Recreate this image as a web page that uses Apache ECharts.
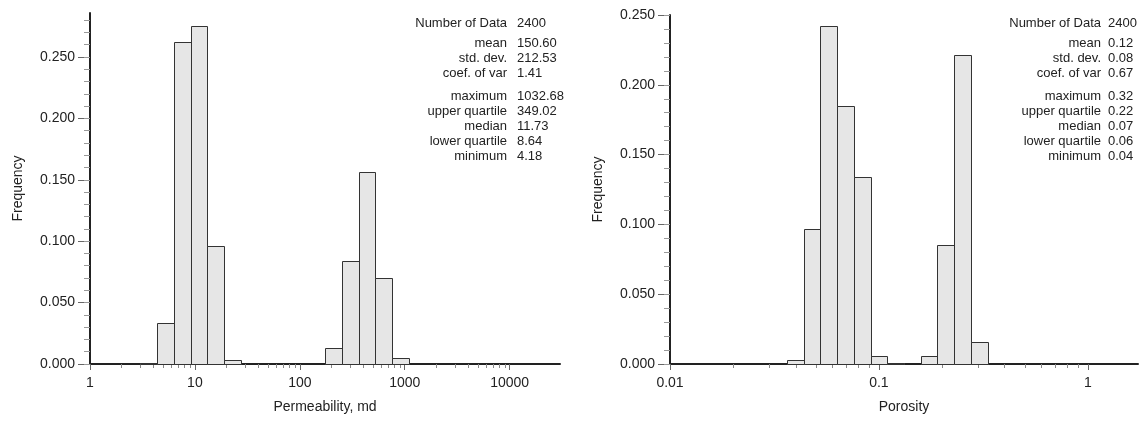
<!DOCTYPE html>
<html><head><meta charset="utf-8">
<script src="https://cdn.jsdelivr.net/npm/echarts@6/dist/echarts.min.js"></script>
<style>html,body{margin:0;padding:0;background:#fff}#c{width:1139px;height:423px}</style>
</head><body><div id="c"></div>
<script>
// ---- Data ----
// Permeability histogram (log bins, md)
const permBinLow  = [3.020, 4.365, 6.310, 9.120, 13.18, 19.05, 173.8, 251.2, 363.1, 524.8, 758.6];
const permBinHigh = [4.365, 6.310, 9.120, 13.18, 19.05, 27.54, 251.2, 363.1, 524.8, 758.6, 1096];
const permFreq    = [0.001, 0.033, 0.262, 0.275, 0.096, 0.003, 0.013, 0.084, 0.156, 0.070, 0.005];
// Porosity histogram (log bins)
const poroBinLow  = [0.03631, 0.04365, 0.05248, 0.06310, 0.07586, 0.09120, 0.1096, 0.1585, 0.1905, 0.2291, 0.2754];
const poroBinHigh = [0.04365, 0.05248, 0.06310, 0.07586, 0.09120, 0.1096, 0.1318, 0.1905, 0.2291, 0.2754, 0.3311];
const poroFreq    = [0.003, 0.097, 0.242, 0.185, 0.134, 0.006, 0.001, 0.006, 0.085, 0.221, 0.016];
// Tick labels
const permTicks = [1, 10, 100, 1000, 10000];
const poroTicks = [0.01, 0.1, 1];
const permFreqTicks = [0, 0.05, 0.10, 0.15, 0.20, 0.25];
const poroFreqTicks = [0, 0.05, 0.10, 0.15, 0.20, 0.25];
// Statistics
const statLabels = ['Number of Data', 'mean', 'std. dev.', 'coef. of var', 'maximum', 'upper quartile', 'median', 'lower quartile', 'minimum'];
const permStats = ['2400', '150.60', '212.53', '1.41', '1032.68', '349.02', '11.73', '8.64', '4.18'];
const poroStats = ['2400', '0.12', '0.08', '0.67', '0.32', '0.22', '0.07', '0.06', '0.04'];

// ---- Layout ----
const FONT = '"Liberation Sans", Arial, Helvetica, sans-serif';
const rowY = [23, 43, 58, 73, 96, 111, 126, 141, 156];

function minorLog(decadeFrom, decadeTo) {
  const out = [];
  for (let d = decadeFrom; d < decadeTo; d++) for (let k = 2; k <= 9; k++) out.push(Math.log10(k) + d);
  return out;
}
function minorLin(maxHundredths) {
  const out = [];
  for (let i = 0; i <= maxHundredths; i++) out.push(i / 100);
  return out;
}
function fmtLog(ticks) {
  return v => {
    const i = ticks.findIndex(t => Math.abs(Math.log10(t) - v) < 1e-6);
    return i >= 0 ? String(ticks[i]) : '';
  };
}
function mainX(g, min, max, ticks, name) {
  const vals = ticks.map(t => Math.log10(t));
  return {
    type: 'value', gridIndex: g, position: 'bottom', min, max,
    name, nameLocation: 'middle', nameGap: 36,
    nameTextStyle: {fontFamily: FONT, fontSize: 14, color: '#222'},
    axisLine: {show: true, onZero: false, lineStyle: {color: '#222', width: 2}},
    axisTick: {show: true, customValues: vals, length: 6, lineStyle: {color: '#666'}},
    axisLabel: {show: true, customValues: vals, formatter: fmtLog(ticks), margin: 12,
      fontFamily: FONT, fontSize: 14, color: '#222'},
    splitLine: {show: false}
  };
}
function minorX(g, min, max, vals) {
  return {
    type: 'value', gridIndex: g, position: 'bottom', min, max,
    axisLine: {show: false, onZero: false}, axisLabel: {show: false},
    axisTick: {show: true, customValues: vals, length: 4, lineStyle: {color: '#888'}},
    splitLine: {show: false}
  };
}
function mainY(g, max, ticks) {
  return {
    type: 'value', gridIndex: g, position: 'left', min: 0, max,
    name: 'Frequency', nameLocation: 'middle', nameGap: 65,
    nameTextStyle: {fontFamily: FONT, fontSize: 14, color: '#222'},
    axisLine: {show: true, onZero: false, lineStyle: {color: '#222', width: 2}},
    axisTick: {show: true, customValues: ticks, length: 12, lineStyle: {color: '#666'}},
    axisLabel: {show: true, customValues: ticks, formatter: v => v.toFixed(3), margin: 15,
      padding: [0, 0, 6, 0], fontFamily: FONT, fontSize: 14, color: '#222'},
    splitLine: {show: false}
  };
}
function minorY(g, max, vals) {
  return {
    type: 'value', gridIndex: g, position: 'left', min: 0, max,
    axisLine: {show: false, onZero: false}, axisLabel: {show: false},
    axisTick: {show: true, customValues: vals, length: 6, lineStyle: {color: '#999'}},
    splitLine: {show: false}
  };
}
function renderBar(params, api) {
  const p0 = api.coord([api.value(0), api.value(2)]);
  const p1 = api.coord([api.value(1), 0]);
  return {
    type: 'rect',
    shape: {x: Math.round(p0[0]) + 0.5, y: Math.round(p0[1]) + 0.5,
            width: Math.round(p1[0]) - Math.round(p0[0]), height: Math.round(p1[1]) - Math.round(p0[1])},
    style: {fill: '#e6e6e6', stroke: '#333', lineWidth: 1}
  };
}
function barData(lo, hi, f) {
  return lo.map((v, i) => [Math.log10(lo[i]), Math.log10(hi[i]), f[i]]);
}
function statTexts(labelRight, valueLeft, values) {
  const els = [];
  statLabels.forEach((s, i) => {
    els.push({type: 'text', x: labelRight, y: rowY[i], silent: true,
      style: {text: s, align: 'right', textAlign: 'right', verticalAlign: 'middle', textVerticalAlign: 'middle',
        font: '13px ' + FONT, fill: '#222'}});
    els.push({type: 'text', x: valueLeft, y: rowY[i], silent: true,
      style: {text: values[i], align: 'left', textAlign: 'left', verticalAlign: 'middle', textVerticalAlign: 'middle',
        font: '13px ' + FONT, fill: '#222'}});
  });
  return els;
}

const chart = echarts.init(document.getElementById('c'), null, {renderer: 'canvas'});
chart.setOption({
  animation: false,
  backgroundColor: '#fff',
  textStyle: {fontFamily: FONT},
  grid: [
    {left: 90, top: 13, width: 470, height: 351, outerBoundsMode: 'none', containLabel: false},
    {left: 670, top: 15, width: 468, height: 349, outerBoundsMode: 'none', containLabel: false}
  ],
  xAxis: [
    mainX(0, 0, 4.48, permTicks, 'Permeability, md'),
    minorX(0, 0, 4.48, minorLog(0, 4)),
    mainX(1, -2, 0.24, poroTicks, 'Porosity'),
    minorX(1, -2, 0.24, minorLog(-2, 0))
  ],
  yAxis: [
    mainY(0, 0.2858, permFreqTicks),
    minorY(0, 0.2858, minorLin(28)),
    mainY(1, 0.25, poroFreqTicks),
    minorY(1, 0.25, minorLin(25))
  ],
  series: [
    {type: 'custom', xAxisIndex: 0, yAxisIndex: 0, renderItem: renderBar, silent: true,
     encode: {x: [0, 1], y: 2}, data: barData(permBinLow, permBinHigh, permFreq)},
    {type: 'custom', xAxisIndex: 2, yAxisIndex: 2, renderItem: renderBar, silent: true,
     encode: {x: [0, 1], y: 2}, data: barData(poroBinLow, poroBinHigh, poroFreq)}
  ],
  graphic: {elements: statTexts(507, 517, permStats).concat(statTexts(1101, 1108, poroStats))}
});
</script></body></html>
